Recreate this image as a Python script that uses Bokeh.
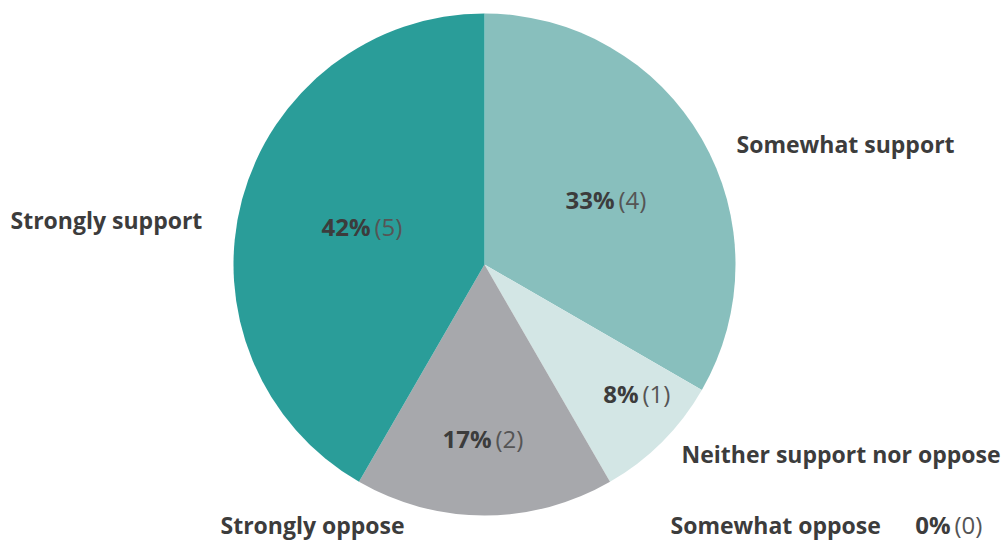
import math
from bokeh.plotting import figure
from bokeh.models import Range1d, ColumnDataSource
from bokeh.core.properties import value
from bokeh.embed import file_html
from bokeh.resources import INLINE

categories = ["Somewhat support", "Neither support nor oppose", "Somewhat oppose", "Strongly oppose", "Strongly support"]
counts = [4, 1, 0, 2, 5]
colors = ["#88bfbd", "#d3e6e5", "#c9c9c9", "#a7a8ac", "#2a9d99"]

# layout (screen pixels)
W, H = 1002, 541
CX, CY, R = 484, 264, 251
outer_label_pos = [(736, 143), (681, 453), (670, 524), (220, 524), (10, 219)]
inner_label_pos = [(614, 199), (638, 393), (950, 524), (491, 438), (370, 226)]

total = sum(counts)
FONT = "Open Sans"

p = figure(width=W, height=H, output_backend="svg", toolbar_location=None,
           x_range=Range1d(0, W), y_range=Range1d(0, H), min_border=0)
p.axis.visible = False
p.grid.visible = False
p.outline_line_color = None
p.background_fill_color = "white"
p.border_fill_color = "white"

def sy(y):
    return H - y

starts, ends, cols = [], [], []
cum = 0
for c, col in zip(counts, colors):
    a0 = math.pi / 2 - 2 * math.pi * cum / total
    cum += c
    a1 = math.pi / 2 - 2 * math.pi * cum / total
    if c > 0:
        starts.append(a0); ends.append(a1); cols.append(col)

src = ColumnDataSource(dict(x=[CX] * len(starts), y=[sy(CY)] * len(starts),
                            s=starts, e=ends, c=cols))
p.wedge(x="x", y="y", radius=R, start_angle="s", end_angle="e", direction="clock",
        fill_color="c", line_color=None, source=src)

# outer category labels
p.text(x=[pt[0] for pt in outer_label_pos], y=[sy(pt[1]) for pt in outer_label_pos],
       text=categories, text_font=value(FONT), text_font_style="bold",
       text_font_size="23px", text_color="#3c3c3c", text_align="left",
       text_baseline="middle")

# value labels: bold percentage + count in brackets
pcts = ["%d%%" % round(100 * c / total) for c in counts]
brk = ["(%d)" % c for c in counts]
bx = [pt[0] for pt in inner_label_pos]
by = [sy(pt[1]) for pt in inner_label_pos]
p.text(x=bx, y=by, text=pcts, text_font=value(FONT), text_font_style="bold",
       text_font_size="24px", text_color="#3c3c3c", text_align="right",
       text_baseline="middle")
p.text(x=[x + 4 for x in bx], y=by, text=brk, text_font=value(FONT),
       text_font_size="24px", text_color="#555555", text_align="left",
       text_baseline="middle")

open("out.html", "w").write(file_html(p, INLINE))
